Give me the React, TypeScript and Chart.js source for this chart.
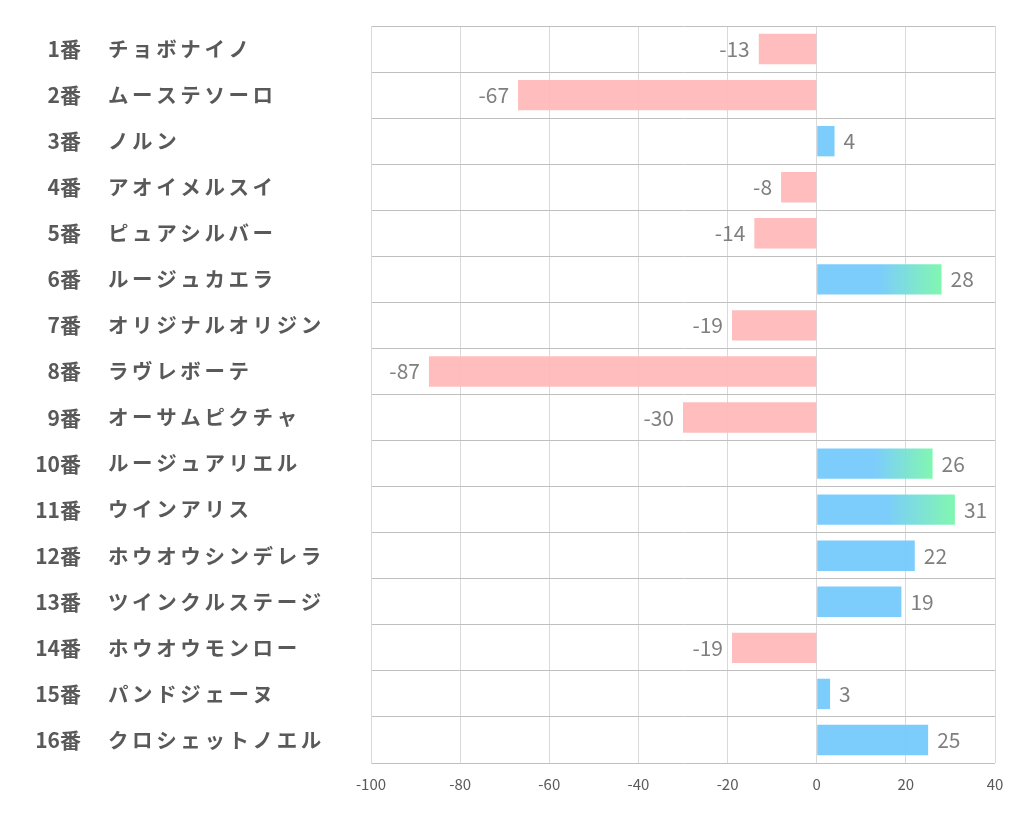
import React, { useEffect, useRef } from "react";
import { Chart, registerables } from "chart.js";

Chart.register(...registerables);

const numbers = ["1番","2番","3番","4番","5番","6番","7番","8番","9番","10番","11番","12番","13番","14番","15番","16番"];
const names = ["チョボナイノ","ムーステソーロ","ノルン","アオイメルスイ","ピュアシルバー","ルージュカエラ","オリジナルオリジン","ラヴレボーテ","オーサムピクチャ","ルージュアリエル","ウインアリス","ホウオウシンデレラ","ツインクルステージ","ホウオウモンロー","パンドジェーヌ","クロシェットノエル"];
const values = [-13, -67, 4, -8, -14, 28, -19, -87, -30, 26, 31, 22, 19, -19, 3, 25];
const highlight = [false, false, false, false, false, true, false, false, false, true, true, false, false, false, false, false];
const xTicks = [-100, -80, -60, -40, -20, 0, 20, 40];

const PINK = "rgba(255,185,187,0.95)";
const BLUE = "rgba(117,202,252,0.95)";
const GREEN = "rgba(122,246,172,0.95)";
const FONT = "'Noto Sans CJK JP', 'Noto Sans', sans-serif";

export default function App() {
  const ref = useRef<HTMLCanvasElement>(null);
  useEffect(() => {
    const canvas = ref.current!;
    const labelPlugin = {
      id: "labels",
      afterDraw(chart: any) {
        const ctx = chart.ctx;
        const y = chart.scales.y;
        const x = chart.scales.x;
        ctx.save();
        ctx.textBaseline = "middle";
        ctx.fillStyle = "#595959";
        for (let i = 0; i < names.length; i++) {
          const py = y.getPixelForValue(i);
          ctx.font = `bold 21px ${FONT}`;
          ctx.textAlign = "right";
          (ctx as any).letterSpacing = "0px";
          ctx.fillText(numbers[i], 81, py);
          ctx.textAlign = "left";
          ctx.font = `bold 20.5px ${FONT}`;
          (ctx as any).letterSpacing = "3.6px";
          ctx.fillText(names[i], 108, py);
        }
        (ctx as any).letterSpacing = "0px";
        ctx.font = `21px ${FONT}`;
        ctx.fillStyle = "#7f7f7f";
        for (let i = 0; i < values.length; i++) {
          const py = y.getPixelForValue(i);
          const px = x.getPixelForValue(values[i]);
          if (values[i] < 0) {
            ctx.textAlign = "right";
            ctx.fillText(String(values[i]), px - 9, py);
          } else {
            ctx.textAlign = "left";
            ctx.fillText(String(values[i]), px + 9, py);
          }
        }
        ctx.restore();
      },
    };
    const chart = new Chart(canvas, {
      type: "bar",
      data: {
        labels: names,
        datasets: [
          {
            data: values,
            backgroundColor: (c: any) => {
              const i = c.dataIndex;
              const v = values[i];
              if (v < 0) return PINK;
              if (!highlight[i]) return BLUE;
              const chartObj = c.chart;
              const xs = chartObj.scales?.x;
              if (!xs) return BLUE;
              const x0 = xs.getPixelForValue(0);
              const x1 = xs.getPixelForValue(v);
              const g = chartObj.ctx.createLinearGradient(x0, 0, x1, 0);
              g.addColorStop(0, BLUE);
              g.addColorStop(0.5, BLUE);
              g.addColorStop(1, GREEN);
              return g;
            },
            borderWidth: 0,
            categoryPercentage: 1,
            barPercentage: 0.66,
          },
        ],
      },
      options: {
        indexAxis: "y",
        animation: false,
        responsive: false,
        maintainAspectRatio: false,
        layout: { padding: { left: 0, top: 26, right: 27, bottom: 0 } },
        plugins: { legend: { display: false }, tooltip: { enabled: false } },
        scales: {
          x: {
            min: -100,
            max: 40,
            afterBuildTicks: (s: any) => {
              s.ticks = xTicks.map((v) => ({ value: v }));
            },
            afterFit: (s: any) => {
              s.height = 71;
            },
            grid: { color: "#d9d9d9", drawTicks: false, lineWidth: 1 },
            border: { display: false },
            ticks: {
              color: "#595959",
              font: { family: FONT, size: 15 },
              padding: 12,
            },
          },
          y: {
            afterFit: (s: any) => {
              s.width = 371;
            },
            grid: { color: "#bfbfbf", offset: true, drawTicks: false, lineWidth: 1 },
            border: { display: true, color: "#d9d9d9" },
            ticks: { display: false },
          },
        },
      },
      plugins: [labelPlugin],
    } as any);
    return () => chart.destroy();
  }, []);
  return (
    <div style={{ position: "fixed", left: 0, top: 0, width: 1022, height: 834, background: "#fff" }}>
      <canvas ref={ref} width={1022} height={834} style={{ width: 1022, height: 834, display: "block" }} />
    </div>
  );
}
